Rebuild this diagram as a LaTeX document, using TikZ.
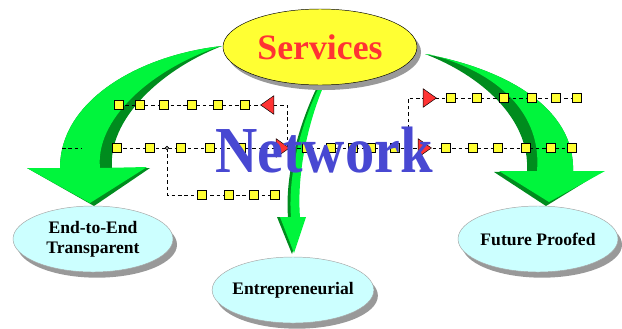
\documentclass[tikz,border=0pt]{standalone}
\usepackage{fontspec}
\setmainfont{Liberation Serif}
\usetikzlibrary{shapes.geometric,shadows}
\definecolor{leaf}{RGB}{0,245,60}
\definecolor{leafdark}{RGB}{0,140,30}
\definecolor{svcyellow}{RGB}{255,255,51}
\definecolor{svcred}{RGB}{255,51,51}
\definecolor{netblue}{RGB}{72,72,210}
\definecolor{goalcyan}{RGB}{204,255,255}
\tikzset{
  svc/.style={ellipse,draw,fill=svcyellow,minimum width=5.82cm,minimum height=2.28cm,text=svcred,
    font=\bfseries\fontsize{30.5}{30}\selectfont,drop shadow={shadow xshift=0.12cm,shadow yshift=-0.15cm,fill=gray!80,opacity=1}},
  goal/.style={ellipse,draw=gray!70,fill=goalcyan,minimum width=4.8cm,minimum height=1.98cm,align=center,inner xsep=-3pt,
    font=\bfseries\fontsize{15}{17}\selectfont,drop shadow={shadow xshift=0.12cm,shadow yshift=-0.17cm,fill=gray!80,opacity=1}},
  hop/.style={draw,fill=svcyellow,minimum size=0.26cm,inner sep=0,
    drop shadow={shadow xshift=0.5pt,shadow yshift=-0.5pt,fill=gray,opacity=1}},
  flow/.style={isosceles triangle,isosceles triangle apex angle=70,draw,fill=svcred,inner sep=3.3pt},
  joint/.style={circle,draw,fill=gray!70,inner sep=0,minimum size=0.11cm},
  link/.style={dash pattern=on 3pt off 2.5pt,thin},
}
\begin{document}
\begin{tikzpicture}[x=0.03cm,y=-0.03cm]
\useasboundingbox (0,0) rectangle (622,328);
% green arrows, dark copy underneath
\fill[leafdark] (222,46) .. controls (140,55) and (60,100) .. (60,168) -- (27,168) -- (94,206) -- (150,168)
  -- (112,168) .. controls (108,120) and (160,70) .. (222,46) -- cycle;
\fill[leaf] (222,46) .. controls (140,55) and (60,100) .. (60,168) -- (27,168) -- (90,203) -- (147,167)
  -- (100,168) .. controls (95,120) and (150,70) .. (218,47) -- cycle;
\fill[leafdark] (425,54) .. controls (510,70) and (575,110) .. (573,171) -- (603,171) -- (546,206) -- (494,172)
  -- (527,171) .. controls (530,118) and (480,75) .. (425,54) -- cycle;
\fill[leaf] (425,54) .. controls (510,70) and (575,110) .. (573,171) -- (605,171) -- (549,202) -- (499,171)
  -- (537,171) .. controls (542,115) and (500,72) .. (428,54) -- cycle;
\fill[leafdark] (322,85) .. controls (303,130) and (295,180) .. (298,217) -- (304,217) -- (292,254) -- (277,217)
  -- (288,217) .. controls (285,180) and (296,130) .. (318,85) -- cycle;
\fill[leaf] (324,85) .. controls (305,130) and (297,180) .. (300,217) -- (306,217) -- (294,253) -- (280,217)
  -- (291,217) .. controls (288,180) and (298,130) .. (320,85) -- cycle;

\node[svc] (svc) at (320,47) {Services};
\node[goal] (e2e) at (93,239) {End-to-End\\Transparent};
\node[goal] (ent) at (293,290) {Entrepreneurial};
\node[goal] (fut) at (538,239) {Future Proofed};

% dashed network
\coordinate (tlS) at (119,105);
\coordinate (tlE) at (287,105);
\coordinate (mS) at (117,148);
\coordinate (mE) at (572,148);
\coordinate (trE) at (577,98);
\coordinate (blE) at (275,195);
\coordinate (stA) at (62,148);
\coordinate (stB) at (82,148);
\node[joint] (jL) at (167,148) {};
\node[joint] (jR) at (408,148) {};
\draw[link] (stA) -- (stB);
\draw[link] (tlS) -- (tlE) -- (tlE |- mS);
\draw[link] (mS) -- (mE);
\draw[link] (jL.center) |- (blE);
\draw[link] (jR.center) |- (trE);
\node[joint] at (jL) {};
\node[joint] at (jR) {};
\foreach \x [count=\i] in {119,140,164,192,218,245}
  \node[hop] (a\i) at (\x,105) {};
\foreach \x [count=\i] in {117,150,181,210,241,307,331,353,371,395,446,473,498,526,551,572}
  \node[hop] (b\i) at (\x,148) {};
\foreach \x [count=\i] in {202,229,254,275}
  \node[hop] (c\i) at (\x,195) {};
\foreach \x [count=\i] in {451,477,504,532,556,577}
  \node[hop] (d\i) at (\x,98) {};
\node[flow,shape border rotate=180] (fa) at (270,105) {};
\node[flow] (fb) at (280,148) {};
\node[flow] (fc) at (422,148) {};
\node[flow] (fd) at (427,98) {};

\node[text=netblue,font=\bfseries\fontsize{50}{50}\selectfont] (net) at (324,150) {\scalebox{1}[1.12]{Network}};
\end{tikzpicture}
\end{document}
